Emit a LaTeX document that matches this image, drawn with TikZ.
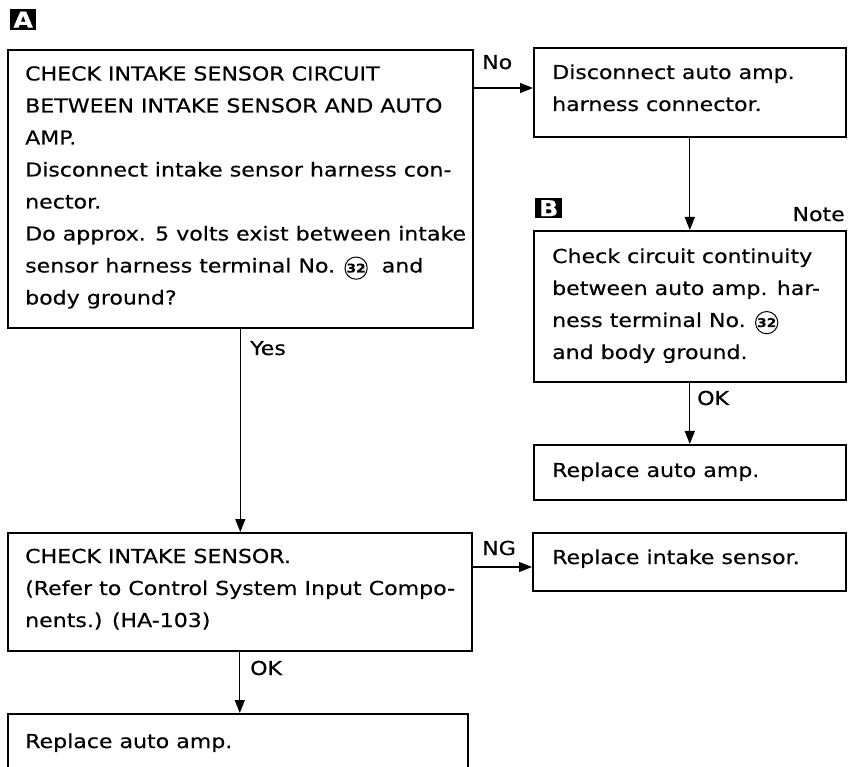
\documentclass[tikz,border=0pt]{standalone}
\usepackage{fontspec}
\setmainfont{DejaVu Sans}[FakeStretch=1.15,FakeBold=0.3]
\usetikzlibrary{arrows.meta}
\newcommand\cnum[1]{\tikz[baseline=(cn.base)]\node[draw,circle,line width=1pt,inner sep=0.4pt,font=\fontsize{12}{12}\selectfont\bfseries] (cn) {#1};}
\tikzset{
  box/.style={draw, line width=1.6pt, inner sep=0pt, anchor=north west},
  txt/.style={anchor=base west, inner sep=0pt, font=\fontsize{19.2}{32}\selectfont},
  lbl/.style={anchor=base west, inner sep=0pt, font=\fontsize{19.2}{22}\selectfont},
  conn/.style={line width=1.3pt, -{Triangle[length=13pt,width=10pt]}},
  badge/.style={fill=black, text=white, anchor=north west, inner sep=0pt, font=\fontsize{22}{22}\selectfont\bfseries}
}
\begin{document}
\begin{tikzpicture}[x=1pt,y=-1pt]
\clip (0,0) rectangle (855,767);
\fill[white] (0,0) rectangle (855,767);
% badges
\node[badge, minimum width=26pt, minimum height=21pt] (ba) at (10,9) {A};
\node[badge, minimum width=27pt, minimum height=20pt] (bbg) at (535,198) {B};
% boxes
\node[box, minimum width=465pt, minimum height=278pt] (a1) at (7,49) {};
\node[box, minimum width=312pt, minimum height=89pt] (b2) at (533,47) {};
\node[box, minimum width=312pt, minimum height=151pt] (bb) at (533,230) {};
\node[box, minimum width=312pt, minimum height=55pt] (r1) at (533,444) {};
\node[box, minimum width=464pt, minimum height=118pt] (c1) at (7,532) {};
\node[box, minimum width=313pt, minimum height=58pt] (d1) at (532,532) {};
\node[box, minimum width=460pt, minimum height=70pt] (e1) at (7,713) {};
% texts
\node[txt] (ta1) at (25,80.5) {\parbox[t]{445pt}{\raggedright
CHECK INTAKE SENSOR CIRCUIT\\
BETWEEN INTAKE SENSOR AND AUTO\\
AMP.\\
Disconnect intake sensor harness con-\\
nector.\\
Do approx. 5 volts exist between intake\\
sensor harness terminal No. \cnum{32}\ \ and\\
body ground?}};
\node[txt] (tb2) at (552,79) {\parbox[t]{290pt}{\raggedright
Disconnect auto amp.\\
harness connector.}};
\node[txt] (tbb) at (552,263) {\parbox[t]{290pt}{\raggedright
Check circuit continuity\\
between auto amp. har-\\
ness terminal No. \cnum{32}\\
and body ground.}};
\node[txt] (tr1) at (552,477) {Replace auto amp.};
\node[txt] (tc1) at (25,563) {\parbox[t]{445pt}{\raggedright
CHECK INTAKE SENSOR.\\
(Refer to Control System Input Compo-\\
nents.) (HA-103)}};
\node[txt] (td1) at (552,564) {Replace intake sensor.};
\node[txt] (te1) at (25,748) {Replace auto amp.};
% labels
\node[lbl] (lno) at (482,69) {No};
\node[lbl] (lyes) at (250,355) {Yes};
\node[lbl] (lok1) at (697,405) {OK};
\node[lbl] (lng) at (482,555) {NG};
\node[lbl] (lok2) at (250,675) {OK};
\node[lbl, anchor=base east] (lnote) at (845,221) {Note};
% connectors
\draw[conn] (a1.east |- 0,88) -- (b2.west |- 0,88);
\draw[conn] (b2.south) -- (bb.north);
\draw[conn] (bb.south) -- (r1.north);
\draw[conn] (a1.south) -- (a1.south |- c1.north);
\draw[conn] (c1.east |- 0,567) -- (d1.west |- 0,567);
\draw[conn] (c1.south) -- (c1.south |- e1.north);
\end{tikzpicture}
\end{document}
